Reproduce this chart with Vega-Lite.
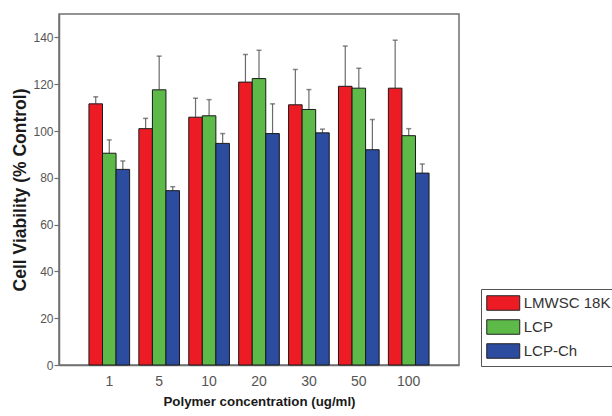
{
  "$schema": "https://vega.github.io/schema/vega-lite/v6.json",
  "width": 400,
  "height": 351,
  "autosize": {"type": "none"},
  "padding": {"left": 59, "top": 14, "right": 153, "bottom": 51},
  "background": "white",
  "config": {
    "view": {"stroke": "#707070", "strokeWidth": 1.5},
    "font": "Liberation Sans"
  },
  "data": {
    "values": [
      {"conc": "1", "series": "LMWSC 18K", "value": 111.6, "upper": 114.6},
      {"conc": "1", "series": "LCP", "value": 90.5, "upper": 96.2},
      {"conc": "1", "series": "LCP-Ch", "value": 83.6, "upper": 87.2},
      {"conc": "5", "series": "LMWSC 18K", "value": 101.0, "upper": 105.4},
      {"conc": "5", "series": "LCP", "value": 117.6, "upper": 132.0},
      {"conc": "5", "series": "LCP-Ch", "value": 74.5, "upper": 76.2},
      {"conc": "10", "series": "LMWSC 18K", "value": 105.9, "upper": 114.0},
      {"conc": "10", "series": "LCP", "value": 106.5, "upper": 113.4},
      {"conc": "10", "series": "LCP-Ch", "value": 94.7, "upper": 98.9},
      {"conc": "20", "series": "LMWSC 18K", "value": 120.9, "upper": 132.7},
      {"conc": "20", "series": "LCP", "value": 122.4, "upper": 134.5},
      {"conc": "20", "series": "LCP-Ch", "value": 98.9, "upper": 111.6},
      {"conc": "30", "series": "LMWSC 18K", "value": 111.2, "upper": 126.3},
      {"conc": "30", "series": "LCP", "value": 109.2, "upper": 117.7},
      {"conc": "30", "series": "LCP-Ch", "value": 99.2, "upper": 100.8},
      {"conc": "50", "series": "LMWSC 18K", "value": 119.1, "upper": 136.3},
      {"conc": "50", "series": "LCP", "value": 118.3, "upper": 126.8},
      {"conc": "50", "series": "LCP-Ch", "value": 92.0, "upper": 104.9},
      {"conc": "100", "series": "LMWSC 18K", "value": 118.3, "upper": 138.8},
      {"conc": "100", "series": "LCP", "value": 98.0, "upper": 101.0},
      {"conc": "100", "series": "LCP-Ch", "value": 82.0, "upper": 85.9}
    ]
  },
  "encoding": {
    "x": {
      "field": "conc",
      "type": "ordinal",
      "sort": ["1", "5", "10", "20", "30", "50", "100"],
      "scale": {"paddingInner": 0.185, "paddingOuter": 0.6},
      "axis": {
        "title": "Polymer  concentration (ug/ml)",
        "titleFontSize": 13.3,
        "titleFontWeight": "bold",
        "titleColor": "#1a1a1a",
        "titlePadding": 6,
        "labelAngle": 0,
        "labelFontSize": 14,
        "labelColor": "#555555",
        "labelPadding": 9,
        "ticks": false,
        "tickSize": 0,
        "domainColor": "#707070",
        "domainWidth": 1.5
      }
    },
    "xOffset": {
      "field": "series",
      "type": "nominal",
      "sort": ["LMWSC 18K", "LCP", "LCP-Ch"],
      "scale": {"paddingInner": 0, "paddingOuter": 0}
    }
  },
  "layer": [
    {
      "mark": {"type": "rule", "color": "#6b6b6b", "strokeWidth": 1.2},
      "encoding": {
        "y": {"field": "value", "type": "quantitative"},
        "y2": {"field": "upper"}
      }
    },
    {
      "mark": {"type": "tick", "color": "#555555", "thickness": 1.5, "size": 5},
      "encoding": {
        "y": {"field": "upper", "type": "quantitative"}
      }
    },
    {
      "mark": {"type": "bar", "stroke": "#1a1a1a", "strokeWidth": 1},
      "encoding": {
        "y": {
          "field": "value",
          "type": "quantitative",
          "scale": {"domain": [0, 150], "nice": false},
          "axis": {
            "title": "Cell Viability (% Control)",
            "titleFontSize": 17.5,
            "titleFontWeight": "bold",
            "titleColor": "#1a1a1a",
            "titlePadding": 3,
            "values": [0, 10, 20, 30, 40, 50, 60, 70, 80, 90, 100, 110, 120, 130, 140],
            "labelExpr": "datum.value % 20 === 0 ? datum.label : ''",
            "labelFontSize": 12,
            "labelColor": "#555555",
            "labelPadding": 1,
            "tickColor": "#707070",
            "tickWidth": 1.2,
            "tickSize": {"condition": {"test": "datum.value % 20 === 0", "value": 5}, "value": 3},
            "domainColor": "#707070",
            "domainWidth": 1.5,
            "grid": false
          }
        },
        "color": {
          "field": "series",
          "type": "nominal",
          "sort": ["LMWSC 18K", "LCP", "LCP-Ch"],
          "scale": {"domain": ["LMWSC 18K", "LCP", "LCP-Ch"], "range": ["#ED1C24", "#5DB948", "#2B4C9F"]},
          "legend": {
            "title": null,
            "orient": "none",
            "legendX": 422,
            "legendY": 275,
            "strokeColor": "#555555",
            "padding": 5,
            "symbolType": "M-2,-0.88H2V0.88H-2Z",
            "symbolSize": 272,
            "symbolOffset": 8.25,
            "symbolStrokeColor": "#222222",
            "symbolStrokeWidth": 1,
            "symbolOpacity": 1,
            "labelFontSize": 15,
            "labelColor": "#333333",
            "labelOffset": 11.5,
            "rowPadding": 4
          }
        }
      }
    }
  ]
}
